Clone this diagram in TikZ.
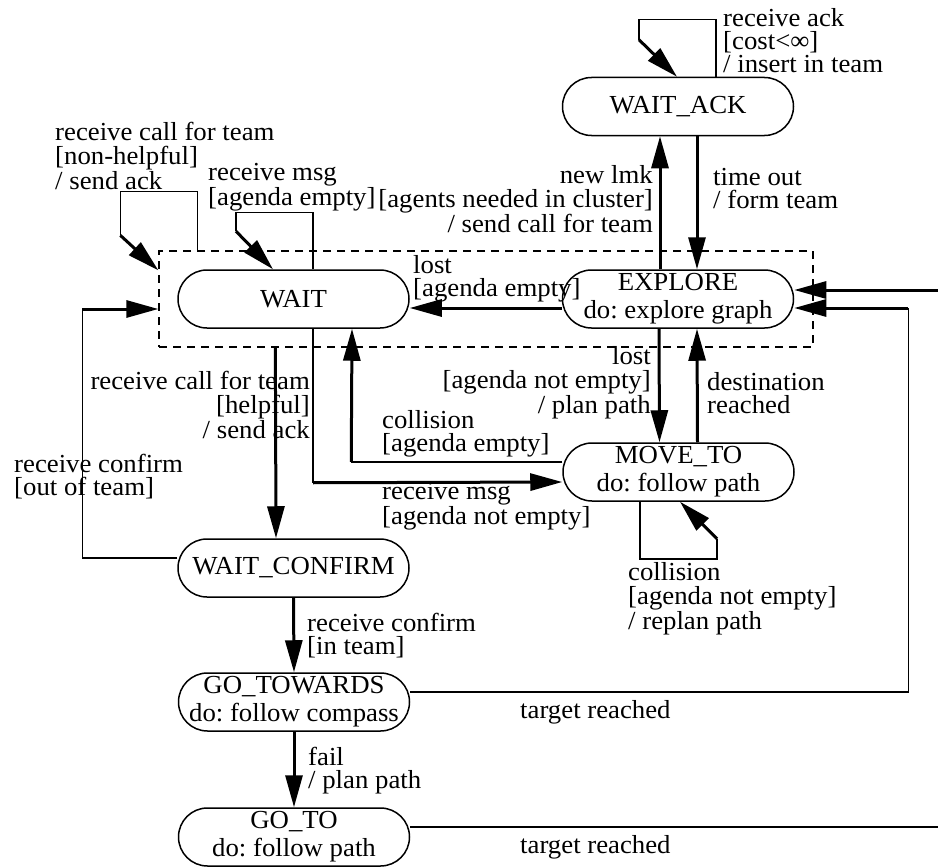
\documentclass[tikz,border=0pt]{standalone}
\usepackage{fontspec}
\setmainfont{Liberation Serif}[FakeStretch=1.03]
\usetikzlibrary{arrows.meta,calc}
\begin{document}
\frenchspacing
\begin{tikzpicture}[x=1pt,y=-1pt,
  state/.style={draw, line width=1.5pt, rectangle, rounded corners=29pt, minimum width=231pt, minimum height=58pt, inner sep=0pt, align=center, font=\fontsize{26}{28}\selectfont},
  lab/.style={inner sep=0pt, font=\fontsize{26}{23.5}\selectfont},
  labl/.style={lab, align=left, anchor=base west},
  labr/.style={lab, align=right, anchor=base east},
  arr/.style={line width=3pt, -{Triangle[length=32pt,width=17pt]}},
  wire/.style={line width=1.5pt},
  superbox/.style={draw, line width=1.3pt, dash pattern=on 8pt off 6pt, inner sep=0pt, minimum width=654pt, minimum height=96pt},
]
\useasboundingbox (0,0) rectangle (938,867);
% states
\node[state] (wack) at (678,106.5) {WAIT\_ACK};
\node[state] (exp) at (678,299) {EXPLORE\\do: explore graph};
\node[state] (wait) at (293.5,299) {WAIT};
\node[state] (mt) at (678.5,472) {MOVE\_TO\\do: follow path};
\node[state] (wc) at (293.5,568) {WAIT\_CONFIRM};
\node[state] (gt) at (294,702) {GO\_TOWARDS\\do: follow compass};
\node[state] (gto) at (294,837) {GO\_TO\\do: follow path};
\node[superbox] (sup) at (486,299) {};
% connectors
\draw[arr] ([xshift=-18pt]exp.north) -- ([xshift=-18pt]wack.south);
\draw[arr] ([xshift=19pt]wack.south) -- ([xshift=19pt]exp.north);
\draw[wire] ([xshift=38pt]wack.north) -- ++(0,-57) -- ++(-77,0) -- ++(0,20) coordinate (l1);
\draw[arr] (l1) -- ([xshift=-1pt]wack.north);
\draw[arr] ($(exp.west)+(0,9)$) -- ($(wait.east)+(0,9)$);
\draw[arr] ([xshift=-19pt]exp.south) -- ([xshift=-19pt]mt.north);
\draw[arr] ([xshift=19pt]mt.north) -- ([xshift=19pt]exp.south);
\draw[wire] ([xshift=-38.5pt]mt.south) -- ++(0,57) -- ++(77,0) -- ++(0,-20) coordinate (l2);
\draw[arr] (l2) -- ([xshift=1.5pt]mt.south);
\draw[wire] ($(mt.west)+(0,-10)$) -- ++(-211,0) coordinate (c3);
\draw[arr] (c3) -- ([xshift=58.5pt]wait.south);
\draw[wire] ([xshift=19.5pt]wait.south) -- ++(0,154) coordinate (c4);
\draw[arr] (c4) -- ($(mt.west)+(0,10)$);
\draw[wire] ([xshift=19.5pt]wait.north) -- ++(0,-57) -- ++(-77,0) -- ++(0,19) coordinate (l3);
\draw[arr] (l3) -- ([xshift=-20.5pt]wait.north);
\draw[wire] ($(sup.north west)+(39,0)$) -- ++(0,-59) -- ++(-77,0) -- ++(0,44) coordinate (l4);
\draw[arr] (l4) -- ($(sup.north west)+(0,20)$);
\draw[arr] ($(sup.south west)+(117,0)$) -- ([xshift=-17.5pt]wc.north);
\draw[wire] ($(wc.west)+(0,-10)$) -- ++(-95,0) -- ++(0,-249) coordinate (l5);
\draw[arr] (l5) -- ($(sup.west)+(0,10)$);
\draw[arr] (wc.south) -- (gt.north);
\draw[arr] (gt.south) -- (gto.north);
\draw[wire] ($(gt.east)+(0,-10)$) -- ++(498,0) -- ++(0,-384) coordinate (l6);
\draw[arr] (l6) -- ($(exp.east)+(0,9)$);
\draw[wire] ($(gto.east)+(0,-10)$) -- ++(540,0) -- ++(0,-537) coordinate (l7);
\draw[arr] (l7) -- ($(exp.east)+(0,-9)$);
% labels (anchor = baseline of last line)
\node[labl] (t1) at (723,73) {receive ack\\{}[cost<∞]\\/ insert in team};
\node[labl] (t2) at (55,189) {receive call for team\\{}[non-helpful]\\/ send ack};
\node[labl] (t3) at (208,205.5) {receive msg\\{}[agenda empty]};
\node[labr] (t4) at (653,232) {new lmk\\{}[agents needed in cluster]\\/ send call for team};
\node[labl] (t5) at (713,208.5) {time out\\/ form team};
\node[labl] (t6) at (413,296.5) {lost\\{}[agenda empty]};
\node[labr] (t7) at (651,413) {lost\\{}[agenda not empty]\\/ plan path};
\node[labl] (t8) at (707,413.5) {destination\\reached};
\node[labr] (t9) at (310,438) {receive call for team\\{}[helpful]\\/ send ack};
\node[labl] (t10) at (382,451.5) {collision\\{}[agenda empty]};
\node[labl] (t11) at (382,524.5) {receive msg\\{}[agenda not empty]};
\node[labl] (t12) at (14,495.5) {receive confirm\\{}[out of team]};
\node[labl] (t13) at (628,629) {collision\\{}[agenda not empty]\\/ replan path};
\node[labl] (t14) at (307,654.5) {receive confirm\\{}[in team]};
\node[labl] (t15) at (520,718) {target reached};
\node[labl] (t16) at (520,853) {target reached};
\node[labl] (t17) at (308,788.5) {fail\\/ plan path};
\end{tikzpicture}
\end{document}
